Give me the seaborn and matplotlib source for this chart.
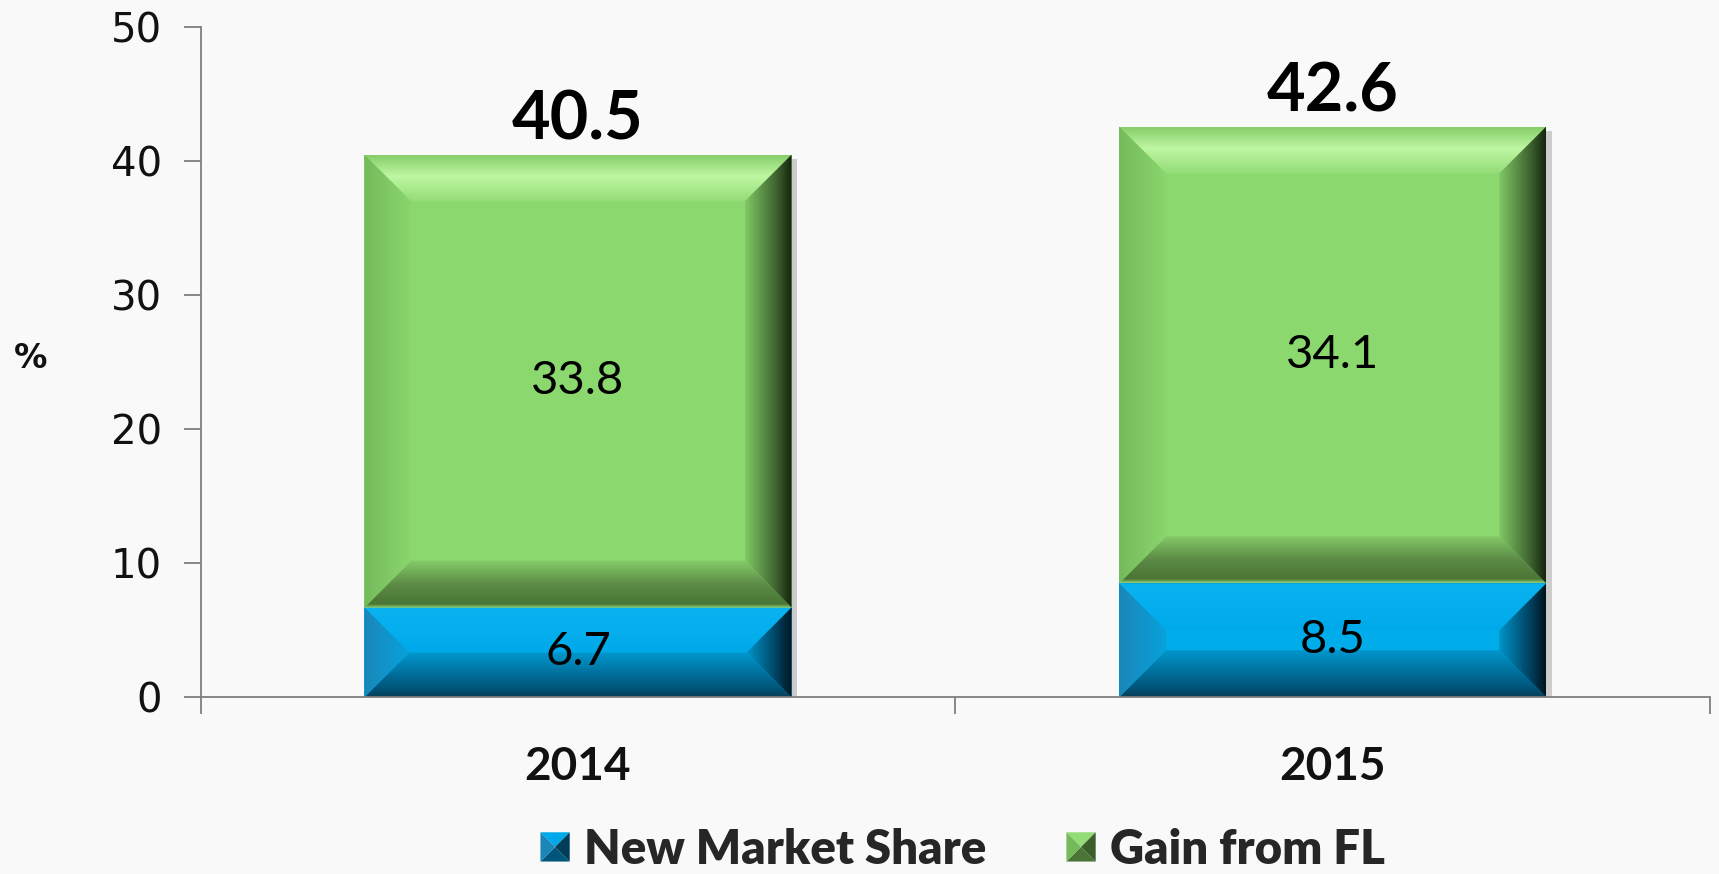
import numpy as np
import pandas as pd
import matplotlib
matplotlib.use("Agg")
import matplotlib.pyplot as plt
import seaborn as sns
from matplotlib.colors import LinearSegmentedColormap
from matplotlib.patches import Polygon
from matplotlib.legend_handler import HandlerBase
from matplotlib.patheffects import SimplePatchShadow, Normal

# ---- data -------------------------------------------------------------
years = ["2014", "2015"]
new_market_share = [6.7, 8.5]
gain_from_fl = [33.8, 34.1]
totals = [40.5, 42.6]
series_names = ["New Market Share", "Gain from FL"]
y_ticks = [0, 10, 20, 30, 40, 50]

# ---- colours ----------------------------------------------------------
BLUE = "#00acea"
GREEN = "#8bd86e"

# gradient stops for each bevel side, listed from outer edge to inner edge
GREEN_BEVEL = {
    "top": [(0.0, "#86ce6a"), (0.45, "#bff7a2"), (1.0, "#93dc77")],
    "bottom": [(0.0, "#92d077"), (0.08, "#4b7536"), (0.5, "#5c8c46"), (1.0, "#86cc6a")],
    "left": [(0.0, "#74ba5b"), (0.5, "#80c865"), (1.0, "#8ad66d")],
    "right": [(0.0, "#15240f"), (0.3, "#3b5e2c"), (1.0, "#80c866")],
}
BLUE_BEVEL = {
    "top": [(0.0, "#0ab2f0"), (1.0, "#00aaea")],
    "bottom": [(0.0, "#083f5a"), (0.2, "#00557a"), (1.0, "#0098cf")],
    "left": [(0.0, "#1a86b8"), (1.0, "#08a2dc")],
    "right": [(0.0, "#00141c"), (0.3, "#003d5a"), (1.0, "#0094c8")],
}

sns.set_theme(style="white")
plt.rcParams["font.family"] = ["Lato", "DejaVu Sans"]

fig = plt.figure(figsize=(17.19, 8.74), dpi=100, facecolor="#f9f9f9")
ax = fig.add_axes([0.1167, 0.2022, 0.8781, 0.7665])
ax.set_facecolor("none")

df = pd.DataFrame({"year": years, "new": new_market_share, "gain": gain_from_fl})

sns.barplot(data=df, x="year", y="new", color=BLUE, saturation=1,
            width=0.566, ax=ax, zorder=3, linewidth=0)
sns.barplot(data=df, x="year", y="gain", bottom=df["new"].to_numpy(),
            color=GREEN, saturation=1, width=0.566, ax=ax, zorder=3, linewidth=0)

ax.set_xlim(-0.5, 1.5)
ax.set_ylim(0, 50)


def bevel(ax, patch, stops, depth_px=47):
    """Paint bevelled edges onto a rectangular bar patch."""
    x0, y0 = patch.get_x(), patch.get_y()
    x1, y1 = x0 + patch.get_width(), y0 + patch.get_height()
    tr = ax.transData
    (X0, Y0), (X1, Y1) = tr.transform([(x0, y0), (x1, y1)])
    d = min(depth_px, (Y1 - Y0) / 2, (X1 - X0) / 2)
    inv = tr.inverted()
    (xi0, yi0), (xi1, yi1) = inv.transform([(X0 + d, Y0 + d), (X1 - d, Y1 - d)])

    n = 128
    sides = {
        "bottom": ([(x0, y0), (x1, y0), (xi1, yi0), (xi0, yi0)],
                   (x0, x1, y0, yi0), np.linspace(0, 1, n)[:, None]),
        "top": ([(x1, y1), (x0, y1), (xi0, yi1), (xi1, yi1)],
                (x0, x1, yi1, y1), np.linspace(1, 0, n)[:, None]),
        "left": ([(x0, y1), (x0, y0), (xi0, yi0), (xi0, yi1)],
                 (x0, xi0, y0, y1), np.linspace(0, 1, n)[None, :]),
        "right": ([(x1, y0), (x1, y1), (xi1, yi1), (xi1, yi0)],
                  (xi1, x1, y0, y1), np.linspace(1, 0, n)[None, :]),
    }
    for side, (pts, extent, grad) in sides.items():
        cmap = LinearSegmentedColormap.from_list(side, stops[side])
        poly = Polygon(pts, closed=True, transform=ax.transData)
        im = ax.imshow(grad, cmap=cmap, vmin=0, vmax=1, extent=extent,
                       origin="lower", aspect="auto", interpolation="bilinear",
                       zorder=4)
        im.set_clip_path(poly)


blue_bars = ax.containers[0]
green_bars = ax.containers[1]
for p in list(blue_bars) + list(green_bars):
    p.set_path_effects([SimplePatchShadow(offset=(4, -3), shadow_rgbFace="#000000", alpha=0.18), Normal()])
for p in blue_bars:
    bevel(ax, p, BLUE_BEVEL)
for p in green_bars:
    bevel(ax, p, GREEN_BEVEL)

ax.set_xlim(-0.5, 1.5)
ax.set_ylim(0, 50)

# segment labels
ax.bar_label(blue_bars, labels=[f"{v}" for v in new_market_share],
             label_type="center", fontsize=34, color="#000000", zorder=6)
ax.bar_label(green_bars, labels=[f"{v}" for v in gain_from_fl],
             label_type="center", fontsize=34, color="#000000", zorder=6)

# totals above each stack
for i, t in enumerate(totals):
    ax.annotate(f"{t}", xy=(i, t), xytext=(0, 11), textcoords="offset points",
                ha="center", va="baseline", fontsize=48, fontweight="bold",
                color="#000000", zorder=6)

# ---- axes styling -----------------------------------------------------
axis_grey = "#7f7f7f"
for side in ("top", "right"):
    ax.spines[side].set_visible(False)
for side in ("left", "bottom"):
    ax.spines[side].set_color(axis_grey)
    ax.spines[side].set_linewidth(1.3)
    ax.spines[side].set_zorder(5)

ax.set_yticks(y_ticks)
ax.set_yticklabels([str(v) for v in y_ticks], fontfamily="DejaVu Sans",
                   fontsize=29, color="#111111")
ax.tick_params(axis="y", direction="out", length=12, width=1.3,
               color=axis_grey, pad=16, left=True)

ax.set_xticks(range(len(years)))
ax.set_xticklabels(years, fontsize=33, fontweight="bold", color="#111111")
ax.set_xticks([-0.5, 0.5, 1.5], minor=True)
ax.tick_params(axis="x", which="major", length=0, pad=35)
ax.tick_params(axis="x", which="minor", direction="out", length=12,
               width=1.3, color=axis_grey, bottom=True)
ax.set_xlabel("")
ax.set_ylabel("")

fig.text(0.018, 0.59, "%", fontsize=24, fontweight="bold",
         fontfamily="DejaVu Sans", ha="center", va="center", color="#111111")


# ---- legend -----------------------------------------------------------
class BevelSquare(HandlerBase):
    def __init__(self, stops, face):
        super().__init__()
        self.stops = stops
        self.face = face

    def create_artists(self, legend, orig_handle, xdescent, ydescent,
                       width, height, fontsize, trans):
        s = min(width, height)
        x0 = -xdescent + (width - s) / 2
        y0 = -ydescent + (height - s) / 2
        x1, y1 = x0 + s, y0 + s
        cx, cy = x0 + s / 2, y0 + s / 2
        tris = [
            ([(x0, y1), (x1, y1), (cx, cy)], self.stops["top"][-1][1]),
            ([(x0, y0), (x1, y0), (cx, cy)], self.stops["bottom"][1][1]),
            ([(x0, y0), (x0, y1), (cx, cy)], self.stops["left"][0][1]),
            ([(x1, y0), (x1, y1), (cx, cy)], self.stops["right"][1][1]),
        ]
        arts = []
        for pts, col in tris:
            arts.append(Polygon(pts, closed=True, facecolor=col,
                                edgecolor="none", transform=trans))
        return arts


h_blue = plt.Rectangle((0, 0), 1, 1, color=BLUE)
h_green = plt.Rectangle((0, 0), 1, 1, color=GREEN)
fig.legend([h_blue, h_green], series_names, loc="center",
           bbox_to_anchor=(0.56, 0.028), ncol=2, frameon=False,
           prop={"size": 34, "weight": "heavy"},
           handlelength=0.62, handleheight=0.62, handletextpad=0.3,
           columnspacing=1.7, borderpad=0.1,
           handler_map={h_blue: BevelSquare(BLUE_BEVEL, BLUE),
                        h_green: BevelSquare(GREEN_BEVEL, GREEN)})

fig.savefig("out.png", dpi=100, facecolor=fig.get_facecolor())
